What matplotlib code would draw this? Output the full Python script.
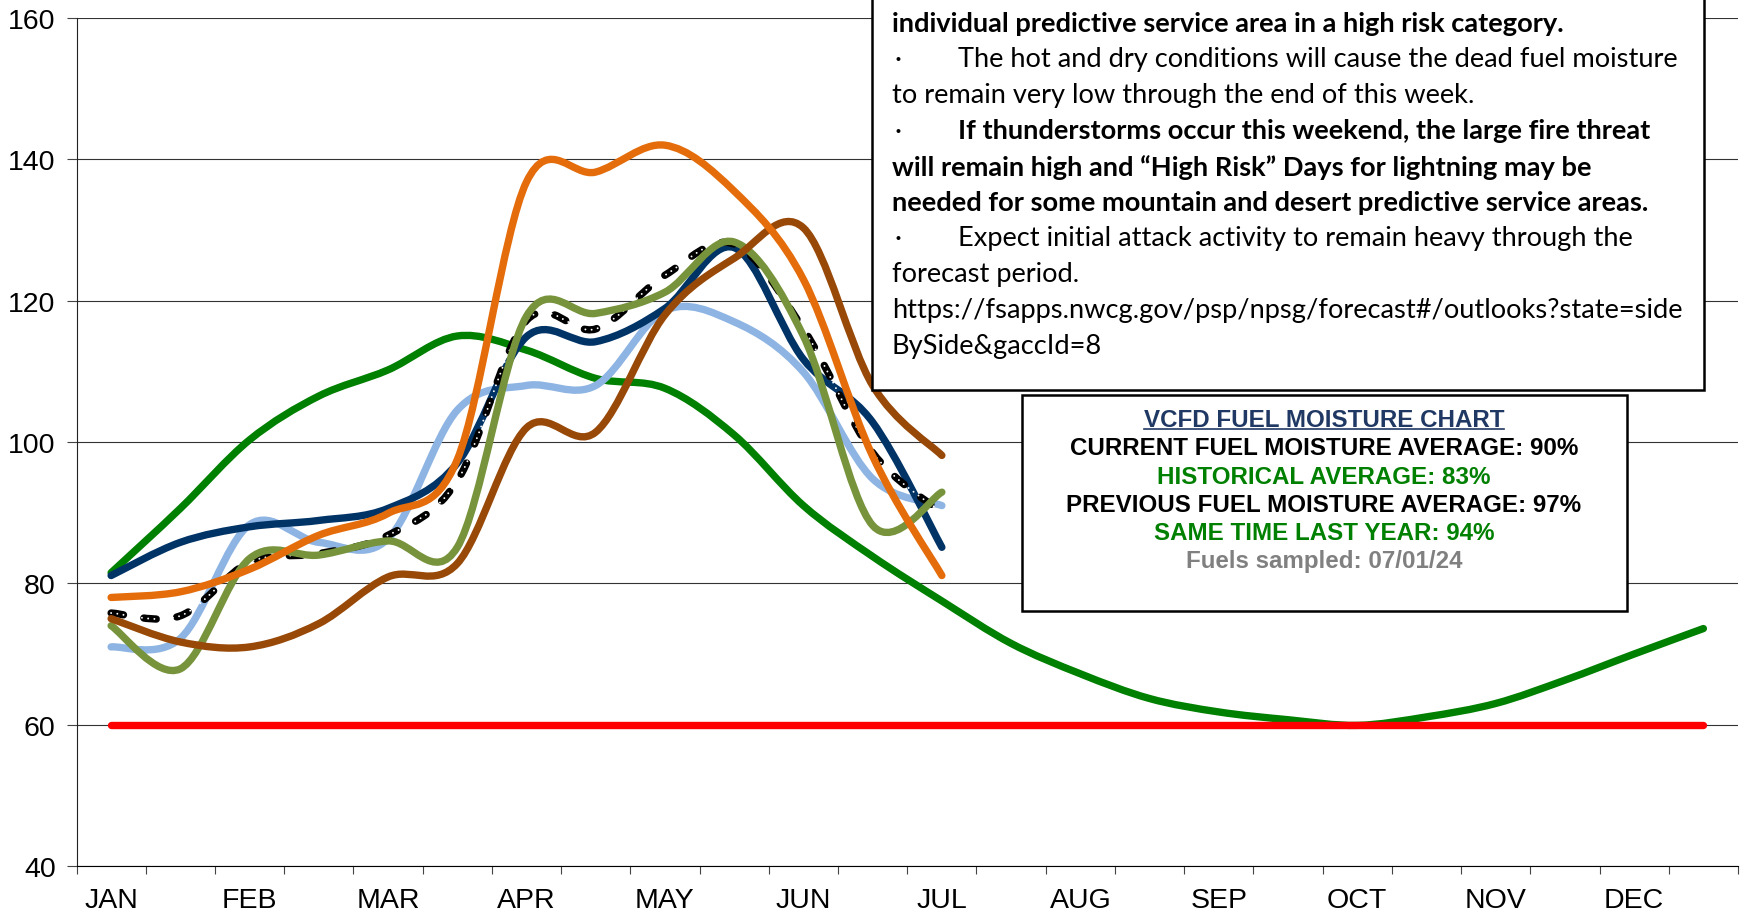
import numpy as np
import matplotlib
matplotlib.use("Agg")
import matplotlib.pyplot as plt
from matplotlib.path import Path
from matplotlib.patches import PathPatch, Rectangle
from matplotlib.lines import Line2D

# ── data (half-month categories, 24 per year) ────────────────────────────────
MONTHS = ["JAN", "FEB", "MAR", "APR", "MAY", "JUN",
          "JUL", "AUG", "SEP", "OCT", "NOV", "DEC"]

historical = [81.5, 90.6, 100.3, 106.5, 110.2, 115, 113, 109, 107.6, 101, 91, 83.8,
              77.5, 71.5, 67.2, 63.7, 61.8, 60.7, 59.9, 61.1, 63, 66.3, 70, 73.6]
critical = [60] * 24

navy_yr = [81.1, 85.8, 88, 88.9, 90.6, 97, 114.9, 114.2, 118.9, 127.5, 111.7, 102.8, 85.1]
current_avg = [75.8, 75.4, 83, 84.2, 86.8, 94.5, 117.2, 116, 123.6, 128, 116, 98.5, 90]
lightblue_yr = [71, 72.2, 88.3, 85.8, 86.3, 104.5, 108, 108, 118.6, 117, 109.9, 94.8, 91]
orange_yr = [78, 78.8, 82, 86.8, 89.9, 97.5, 136.8, 138.2, 142, 135.5, 123, 98, 81.1]
olive_yr = [74, 67.9, 83.5, 84, 86, 85.1, 117.8, 118.2, 121.2, 128.3, 115, 88.2, 92.9]
brown_yr = [75, 71.7, 71, 74.3, 80.9, 82.8, 102, 101.4, 118, 126, 130.3, 108, 98.1]

notes = [
    ("individual predictive service area in a high risk category.", True, False),
    ("The hot and dry conditions will cause the dead fuel moisture", False, True),
    ("to remain very low through the end of this week.", False, False),
    ("If thunderstorms occur this weekend, the large fire threat", True, True),
    ("will remain high and \u201cHigh Risk\u201d Days for lightning may be", True, False),
    ("needed for some mountain and desert predictive service areas.", True, False),
    ("Expect initial attack activity to remain heavy through the", False, True),
    ("forecast period.", False, False),
    ("https://fsapps.nwcg.gov/psp/npsg/forecast#/outlooks?state=side", False, False),
    ("BySide&gaccId=8", False, False),
]

summary = [
    ("CURRENT FUEL MOISTURE AVERAGE: 90%", "black"),
    ("HISTORICAL AVERAGE: 83%", "#008000"),
    ("PREVIOUS FUEL MOISTURE AVERAGE: 97%", "black"),
    ("SAME TIME LAST YEAR: 94%", "#008000"),
    ("Fuels sampled: 07/01/24", "#808080"),
]

W, H = 1743, 912
fx = lambda px: px / W
fy = lambda py: 1 - py / H


def smooth_path(ys):
    # excel-like smoothed line: cubic bezier through the category centres
    pts = np.column_stack([np.arange(len(ys)) + 0.5, ys]).astype(float)
    n = len(pts)
    verts, codes = [pts[0]], [Path.MOVETO]
    for i in range(n - 1):
        p0 = pts[i - 1] if i > 0 else pts[i]
        p1, p2 = pts[i], pts[i + 1]
        p3 = pts[i + 2] if i + 2 < n else pts[i + 1]
        verts += [p1 + (p2 - p0) / 6, p2 - (p3 - p1) / 6, p2]
        codes += [Path.CURVE4] * 3
    return Path(verts, codes)


plt.rcParams["font.family"] = ["Liberation Sans", "DejaVu Sans"]
fig = plt.figure(figsize=(W / 100, H / 100), dpi=100)
fig.patch.set_facecolor("white")
ax = fig.add_axes([fx(76.5), 1 - 867 / H, fx(1738 - 76.5), (867 - 19) / H])

ax.set_xlim(0, 24)
ax.set_ylim(40, 160)

LW = 5.3
ax.plot(np.arange(24) + 0.5, critical, color="#ff0000", lw=LW,
        solid_capstyle="round", zorder=3)

series = [
    (historical, "#008000"),
    (lightblue_yr, "#8db4e2"),
    (navy_yr, "#003366"),
]
for ys, c in series:
    ax.add_patch(PathPatch(smooth_path(ys), fill=False, edgecolor=c, lw=LW,
                           capstyle="round", joinstyle="round",
                           zorder=2 if c == "#008000" else 4))

# current average: black dashes with white dots inside
ax.add_patch(PathPatch(smooth_path(current_avg), fill=False, edgecolor="black",
                       lw=LW, linestyle=(0, (1.7, 2.8)), capstyle="round",
                       joinstyle="round", zorder=5))
ax.add_patch(PathPatch(smooth_path(current_avg), fill=False, edgecolor="white",
                       lw=1.4, linestyle=(0, (0.01, 3.2)), capstyle="round",
                       zorder=5.1))

for ys, c in [(olive_yr, "#77933c"), (brown_yr, "#984807"), (orange_yr, "#e46c0a")]:
    ax.add_patch(PathPatch(smooth_path(ys), fill=False, edgecolor=c, lw=LW,
                           capstyle="round", joinstyle="round", zorder=6))

# axes styling
ax.set_yticks(range(40, 161, 20))
ax.yaxis.grid(True, color="#333333", lw=0.8)
ax.set_axisbelow(True)
ax.set_xticks(range(0, 25))
ax.set_xticklabels([])
ax.set_xticks(np.arange(0, 24, 2) + 0.5, minor=True)
ax.set_xticklabels(MONTHS, minor=True)
ax.tick_params(axis="x", which="major", direction="out", length=6, width=0.8, color="#444444")
ax.tick_params(axis="x", which="minor", length=0, pad=15, labelsize=20.5)
ax.tick_params(axis="y", direction="out", length=7, width=0.8, color="#444444",
               pad=8, labelsize=20.5)
for s in ["top", "right"]:
    ax.spines[s].set_visible(False)
ax.spines["left"].set_color("#222222")
ax.spines["bottom"].set_color("black")

# ── notes box (top right) ────────────────────────────────────────────────────
NOTE_FONT = ["Lato", "DejaVu Sans"]
fig.patches.append(Rectangle((fx(872), fy(391)), fx(1704 - 872), 391 / H + 0.02,
                             transform=fig.transFigure, facecolor="white",
                             edgecolor="black", lw=1.8, zorder=10))
for k, (txt, bold, bullet) in enumerate(notes):
    yc = fy(24 + 35.8 * k)
    if bullet:
        fig.text(fx(894), yc, "\u00b7", fontsize=19.6, family=NOTE_FONT,
                 va="center", ha="left", zorder=11)
        x0 = fx(958.5)
    else:
        x0 = fx(892)
    fig.text(x0, yc, txt, fontsize=19.6, family=NOTE_FONT,
             fontweight="bold" if bold else "normal",
             va="center", ha="left", zorder=11)

# ── fuel moisture summary box ────────────────────────────────────────────────
fig.patches.append(Rectangle((fx(1021.5), fy(611.5)), fx(1627 - 1021.5), (611.5 - 396) / H,
                             transform=fig.transFigure, facecolor="white",
                             edgecolor="black", lw=1.8, zorder=10))
cx = fx(1324)
title = fig.text(cx, fy(421), "VCFD FUEL MOISTURE CHART", fontsize=17.4,
                 fontweight="bold", color="#1f3864", ha="center", va="center", zorder=11)
for k, (txt, c) in enumerate(summary):
    fig.text(cx, fy(449 + 28.2 * k), txt, fontsize=17.4, fontweight="bold",
             color=c, ha="center", va="center", zorder=11)

fig.canvas.draw()
bb = title.get_window_extent().transformed(fig.transFigure.inverted())
uy = bb.y0 + 3 / H
fig.add_artist(Line2D([bb.x0, bb.x1], [uy, uy], transform=fig.transFigure,
                      color="#1f3864", lw=1.2, zorder=11))

fig.savefig("out.png", dpi=100, facecolor="white")
